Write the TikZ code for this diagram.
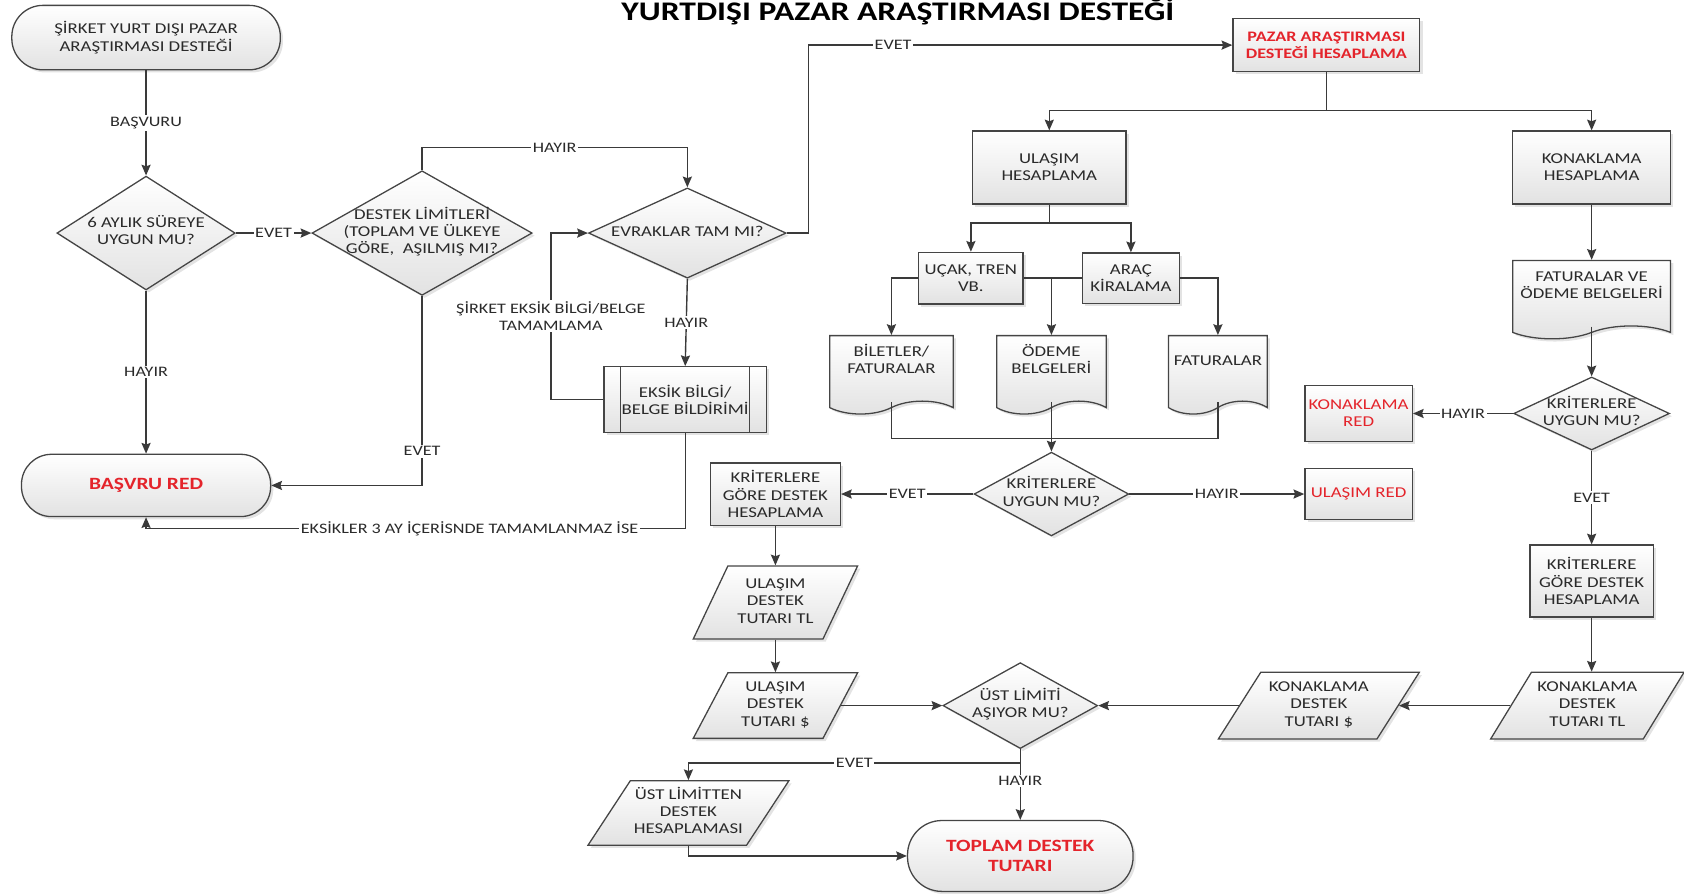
\documentclass[tikz,border=0pt]{standalone}
\usepackage{fontspec}
\setmainfont{Carlito}[FakeStretch=1.25]
\usetikzlibrary{arrows.meta, shapes.geometric, shapes.symbols, shadows, calc}

\definecolor{linec}{HTML}{3A3A3A}
\definecolor{txtc}{HTML}{2A2A2A}
\definecolor{redc}{HTML}{E4242B}
\definecolor{fillb}{HTML}{E2E2E2}
\definecolor{framec}{HTML}{454545}

\newcommand{\ztxt}[2][0pt]{\rule[-0.5pt]{0pt}{1pt}\smash{\makebox[1pt]{\raisebox{\dimexpr-3.5pt+#1\relax}{\begin{tabular}{@{}c@{}}#2\end{tabular}}}}}

\begin{document}
\begin{tikzpicture}[x=1pt, y=-1pt,
  every node/.style={font=\fontsize{14}{16}\selectfont, text=txtc},
  shp/.style={draw=framec, line width=1.2pt, top color=white, bottom color=fillb,
    drop shadow={shadow xshift=2.5pt, shadow yshift=-2.5pt, opacity=.22}, inner sep=0pt, align=center},
  nbox/.style 2 args={shp, rectangle, minimum width=#1, minimum height=#2},
  nterm/.style 2 args={shp, rectangle, minimum width=#1, minimum height=#2, rounded corners=#2/2-1},
  ndia/.style 2 args={shp, diamond, minimum width=#1, minimum height=#2},
  npara/.style 2 args={shp, trapezium, trapezium left angle=70, trapezium right angle=110,
    trapezium stretches=true, minimum width=#1, minimum height=#2},
  ndoc/.style 2 args={shp, tape, tape bend top=none, tape bend bottom=in and out, tape bend height=12pt,
    minimum width=#1, minimum height=#2},
  redbold/.style={text=redc, font=\fontsize{16}{19}\selectfont\bfseries},
  conn/.style={draw=linec, line width=1.3pt},
  arr/.style={conn, -{Stealth[length=10pt, width=8.5pt, inset=1.5pt]}},
  lbl/.style={fill=white, inner sep=1.5pt, text=txtc, align=center, font=\fontsize{13.5}{15.5}\selectfont}
]
\useasboundingbox (0,0) rectangle (1568,832);

% title
\node[font=\fontsize{25}{29}\selectfont\bfseries, text=black, anchor=base] (title) at (836,19) {YURTDIŞI PAZAR ARAŞTIRMASI DESTEĞİ};

% left part
\node[nterm={250}{60}] (start) at (136,35) {ŞİRKET YURT DIŞI PAZAR\\ARAŞTIRMASI DESTEĞİ};
\node[ndia={166}{106}] (d1) at (136,217) {\ztxt{6 AYLIK SÜREYE\\UYGUN MU?}};
\node[ndia={205}{116}] (d2) at (393,217) {\ztxt{DESTEK LİMİTLERİ\\(TOPLAM VE ÜLKEYE\\GÖRE,\ \ AŞILMIŞ MI?}};
\node[ndia={184}{84}] (d3) at (640,217) {\ztxt{EVRAKLAR TAM MI?}};
\node[nterm={232}{58}, redbold] (bred) at (136,452) {BAŞVRU RED};
\node[nbox={151}{61}] (ek) at (638,372) {EKSİK BİLGİ/\\BELGE BİLDİRİMİ};
\draw[framec, line width=1.2pt] ([xshift=16pt]ek.north west) -- ([xshift=16pt]ek.south west);
\draw[framec, line width=1.2pt] ([xshift=-16pt]ek.north east) -- ([xshift=-16pt]ek.south east);

% top right
\node[nbox={174}{49}, text=redc, font=\fontsize{13.5}{16}\selectfont\bfseries] (paz) at (1235,42) {PAZAR ARAŞTIRMASI\\DESTEĞİ HESAPLAMA};
\node[nbox={143}{68}] (ul) at (977,156) {ULAŞIM\\HESAPLAMA};
\node[nbox={147}{68}] (ko) at (1482,156) {KONAKLAMA\\HESAPLAMA};
\node[nbox={97}{48}] (uc) at (904,259) {UÇAK, TREN\\VB.};
\node[nbox={90}{47}] (ar) at (1053,259) {ARAÇ\\KİRALAMA};
\node[ndoc={115}{73}] (bi) at (830,343) {\ztxt[6pt]{BİLETLER/\\FATURALAR}};
\node[ndoc={102}{73}] (od) at (979,343) {\ztxt[6pt]{ÖDEME\\BELGELERİ}};
\node[ndoc={92}{73}] (fa) at (1134,343) {\ztxt[6pt]{FATURALAR}};
\node[ndia={144}{78}] (d4) at (979,460) {\ztxt{KRİTERLERE\\UYGUN MU?}};
\node[nbox={121}{58}] (kr1) at (722,460) {KRİTERLERE\\GÖRE DESTEK\\HESAPLAMA};
\node[nbox={100}{48}, text=redc] (ured) at (1265,460) {ULAŞIM RED};
\node[npara={153}{68}] (ut) at (722,561) {\ztxt{ULAŞIM\\DESTEK\\TUTARI TL}};
\node[npara={153}{61}] (us) at (722,657) {\ztxt{ULAŞIM\\DESTEK\\TUTARI \$}};
\node[ndia={144}{80}] (d5) at (950,657) {\ztxt{ÜST LİMİTİ\\AŞIYOR MU?}};
\node[npara={187}{62}] (kod) at (1228,657) {\ztxt{KONAKLAMA\\DESTEK\\TUTARI \$}};
\node[npara={180}{62}] (kot) at (1478,657) {\ztxt{KONAKLAMA\\DESTEK\\TUTARI TL}};
\node[npara={187}{60}] (ust) at (641,757) {\ztxt{ÜST LİMİTTEN\\DESTEK\\HESAPLAMASI}};
\node[nterm={210}{66}, redbold] (top) at (950,797) {TOPLAM DESTEK\\TUTARI};

% right column
\node[ndoc={147}{73}] (fo) at (1482,273) {\ztxt[6pt]{FATURALAR VE\\ÖDEME BELGELERİ}};
\node[ndia={145}{68}] (d6) at (1482,385) {\ztxt{KRİTERLERE\\UYGUN MU?}};
\node[nbox={100}{52}, text=redc] (kred) at (1265,385) {KONAKLAMA\\RED};
\node[nbox={115}{67}] (kr2) at (1482,541) {KRİTERLERE\\GÖRE DESTEK\\HESAPLAMA};

% connectors left
\draw[arr] (start.south) -- node[lbl]{BAŞVURU} (d1.north);
\draw[arr] (d1.east) -- node[lbl]{EVET} (d2.west);
\draw[arr] (d2.north) -- ++(0,-21) -| node[lbl, pos=.25]{HAYIR} (d3.north);
\draw[arr] (d3.east) -- ++(20,0) |- node[lbl, pos=.6]{EVET} (paz.west);
\draw[arr] (d1.south) -- node[lbl]{HAYIR} (bred.north);
\draw[arr] (d2.south) |- node[lbl, pos=.41]{EVET} (bred.east);
\draw[arr] (d3.south) -- node[lbl]{HAYIR} (ek.north);
\draw[arr] (ek.west) -- ++(-49,0) |- node[lbl, pos=.25]{ŞİRKET EKSİK BİLGİ/BELGE\\TAMAMLAMA} (d3.west);
\draw[arr] (ek.south) -- ++(0,89) -| node[lbl, pos=.2]{EKSİKLER 3 AY İÇERİSNDE TAMAMLANMAZ İSE} (bred.south);

% tree
\draw[conn] (paz.south) -- ++(0,36) coordinate (t1);
\draw[arr] (t1) -| (ul.north);
\draw[arr] (t1) -| (ko.north);
\draw[conn] (ul.south) -- ++(0,17) coordinate (t2);
\draw[arr] (t2) -| (uc.north);
\draw[arr] (t2) -| (ar.north);
\draw[arr] (uc.west) -| (bi.north);
\draw[conn] (uc.east) -- (ar.west);
\draw[arr] (od.north |- uc.east) -- (od.north);
\draw[arr] (ar.east) -| (fa.north);
\draw[conn] (bi.south) -- ++(0,34) -| (fa.south);
\draw[arr] (od.south) -- (d4.north);
\draw[arr] (d4.west) -- node[lbl]{EVET} (kr1.east);
\draw[arr] (d4.east) -- node[lbl]{HAYIR} (ured.west);
\draw[arr] (kr1.south) -- (kr1.south |- ut.north);
\draw[arr] (ut.south) -- (ut.south |- us.north);
\draw[arr] (us.east) -- (d5.west);
\draw[arr] (kod.west) -- (d5.east);
\draw[arr] (kot.west) -- (kod.east);
\draw[arr] (d5.south) -- node[lbl, pos=.45]{HAYIR} (top.north);
\draw[arr] ($(d5.south)+(0,13)$) -| node[lbl, pos=.25]{EVET} (ust.north);
\draw[arr] (ust.south) |- (top.west);

% right column connectors
\draw[arr] (ko.south) -- (fo.north);
\draw[arr] (fo.south) -- (d6.north);
\draw[arr] (d6.west) -- node[lbl]{HAYIR} (kred.east);
\draw[arr] (d6.south) -- node[lbl]{EVET} (kr2.north);
\draw[arr] (kr2.south) -- (kr2.south |- kot.north);
\end{tikzpicture}
\end{document}
